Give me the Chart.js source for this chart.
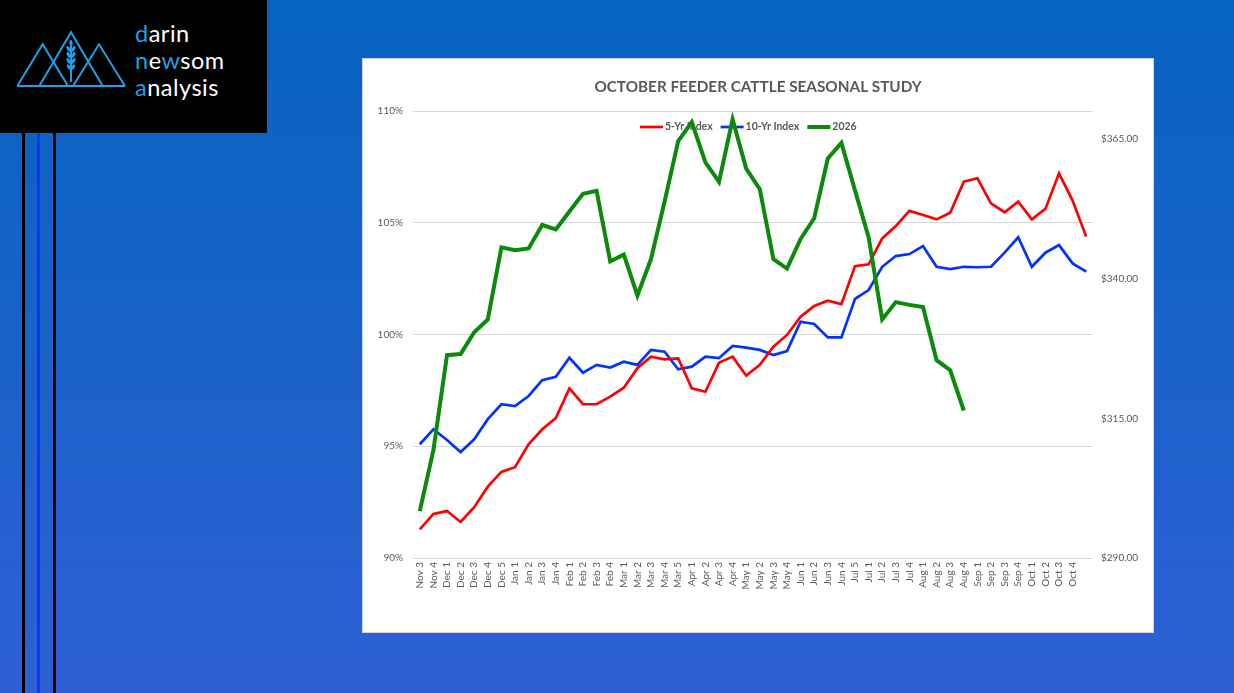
<!DOCTYPE html>
<html>
<head>
<meta charset="utf-8">
<script src="https://cdn.jsdelivr.net/npm/chart.js@4.4.1/dist/chart.umd.min.js"></script>
<style>
  html, body { margin:0; padding:0; }
  body { width:1234px; height:693px; overflow:hidden; position:relative;
         background: linear-gradient(180deg, #0563c1 0%, #1a62c9 50%, #2e60d4 100%); font-family: Lato, sans-serif; }
  #logo { position:absolute; left:0; top:0; width:267px; height:133px; background:#000; }
  #logo .txt { position:absolute; left:135px; top:20px; color:#fff; font-family: Lato, sans-serif; font-weight:400; font-size:23.5px; line-height:27px; letter-spacing:0.5px; }
  #logo .txt span { color:#1ea0e6; }
  .vline { position:absolute; top:133px; bottom:0; width:3px; }
  #box { position:absolute; left:363px; top:59px; width:790px; height:573px; background:#fff; outline:1px solid #d4d4d4; }
  #c { position:absolute; left:0; top:0; }
</style>
</head>
<body>
<div id="logo">
  <svg width="267" height="133" style="position:absolute;left:0;top:0">
    <g fill="none" stroke="#1ea0e6" stroke-width="2">
      <polyline points="17.3,86 42.7,44.3 68,86"/>
      <polyline points="39.3,86 71,32.3 102.7,86"/>
      <polyline points="73,86 99,44.3 125,86"/>
      <line x1="17.3" y1="86" x2="125" y2="86"/>
      <line x1="71" y1="42" x2="71" y2="82"/>
    </g>
    <g fill="#1ea0e6">
      <ellipse cx="71" cy="43" rx="1.6" ry="3"/>
      <ellipse cx="68.6" cy="49" rx="1.6" ry="3.2" transform="rotate(-30 68.6 49)"/>
      <ellipse cx="73.4" cy="49" rx="1.6" ry="3.2" transform="rotate(30 73.4 49)"/>
      <ellipse cx="68.6" cy="55" rx="1.6" ry="3.2" transform="rotate(-30 68.6 55)"/>
      <ellipse cx="73.4" cy="55" rx="1.6" ry="3.2" transform="rotate(30 73.4 55)"/>
      <ellipse cx="68.6" cy="61" rx="1.6" ry="3.2" transform="rotate(-30 68.6 61)"/>
      <ellipse cx="73.4" cy="61" rx="1.6" ry="3.2" transform="rotate(30 73.4 61)"/>
      <ellipse cx="68.8" cy="67" rx="1.5" ry="3" transform="rotate(-30 68.8 67)"/>
      <ellipse cx="73.2" cy="67" rx="1.5" ry="3" transform="rotate(30 73.2 67)"/>
    </g>
  </svg>
  <div class="txt"><span>d</span>arin<br><span>n</span>e<span>w</span>som<br><span>a</span>nalysis</div>
</div>
<div class="vline" style="left:22px;background:#000"></div>
<div class="vline" style="left:37px;background:#0a35ff"></div>
<div class="vline" style="left:53px;background:#000"></div>

<div id="box"><canvas id="c" width="790" height="573"></canvas></div>

<script>
const categories = ["Nov 3","Nov 4","Dec 1","Dec 2","Dec 3","Dec 4","Dec 5","Jan 1","Jan 2","Jan 3","Jan 4",
  "Feb 1","Feb 2","Feb 3","Feb 4","Mar 1","Mar 2","Mar 3","Mar 4","Mar 5","Apr 1","Apr 2","Apr 3","Apr 4",
  "May 1","May 2","May 3","May 4","Jun 1","Jun 2","Jun 3","Jun 4","Jul 5","Jul 1","Jul 2","Jul 3","Jul 4",
  "Aug 1","Aug 2","Aug 3","Aug 4","Sep 1","Sep 2","Sep 3","Sep 4","Oct 1","Oct 2","Oct 3","Oct 4",""];

const fiveYrIndex = [91.28, 91.97, 92.10, 91.61, 92.27, 93.19, 93.85, 94.06, 95.09, 95.76, 96.26, 97.59, 96.88, 96.88,
  97.22, 97.62, 98.49, 99.01, 98.89, 98.93, 97.59, 97.44, 98.74, 99.01, 98.16, 98.64, 99.45, 99.98, 100.80, 101.28,
  101.51, 101.36, 103.06, 103.14, 104.30, 104.85, 105.53, 105.35, 105.15, 105.45, 106.84, 106.99, 105.87, 105.47,
  105.94, 105.15, 105.62, 107.21, 105.99, 104.38];

const tenYrIndex = [95.09, 95.76, 95.28, 94.74, 95.31, 96.21, 96.88, 96.80, 97.25, 97.96, 98.11, 98.96, 98.29, 98.64,
  98.52, 98.78, 98.64, 99.31, 99.23, 98.44, 98.56, 99.01, 98.94, 99.49, 99.41, 99.31, 99.08, 99.26, 100.57, 100.47,
  99.87, 99.87, 101.59, 101.99, 103.03, 103.51, 103.60, 103.96, 103.03, 102.93, 103.03, 103.01, 103.03, 103.66,
  104.35, 103.03, 103.66, 104.00, 103.18, 102.81];

const price2026 = [298.4, 309.3, 326.3, 326.5, 330.4, 332.7, 345.6, 345.1, 345.4, 349.6, 348.8, 352.0, 355.2, 355.7,
  343.1, 344.3, 337.0, 343.5, 353.8, 364.6, 368.0, 360.8, 357.3, 368.5, 359.7, 356.0, 343.5, 341.8, 347.1, 350.8,
  361.5, 364.3, 355.8, 347.4, 332.7, 335.8, 335.3, 334.9, 325.4, 323.6, 316.4,
  null, null, null, null, null, null, null, null, null];

const leftTicks = [90, 95, 100, 105, 110];
const rightTicks = [290, 315, 340, 365];
const chartTitle = "OCTOBER FEEDER CATTLE SEASONAL STUDY";

const TXT = '#595959';
const FONT = 'Lato, "Open Sans", sans-serif';

const seriesStyle = [
  { label: '5-Yr Index', color: '#ff0000', width: 2.7 },
  { label: '10-Yr Index', color: '#0433ff', width: 2.7 },
  { label: '2026', color: '#0b8a0b', width: 4 }
];

const overlayPlugin = {
  id: 'overlay',
  beforeDatasetsDraw(chart) {
    const ctx = chart.ctx;
    ctx.save();
    ctx.font = 'bold 10.5px ' + FONT;
    ctx.fillStyle = TXT;
    ctx.textBaseline = 'middle';
    let x = 277;
    const y = 68;
    seriesStyle.forEach((s, i) => {
      ctx.strokeStyle = s.color;
      ctx.lineWidth = s.width;
      ctx.beginPath();
      ctx.moveTo(x, y); ctx.lineTo(x + 23, y); ctx.stroke();
      x += 25;
      ctx.fillText(s.label, x, y);
      x += ctx.measureText(s.label).width + 8;
    });
    ctx.restore();
  },
  afterDraw(chart) {
    const ctx = chart.ctx;
    ctx.save();
    ctx.font = 'bold 15.3px ' + FONT;
    ctx.fillStyle = TXT;
    ctx.textAlign = 'center';
    ctx.textBaseline = 'middle';
    ctx.fillText(chartTitle, chart.width / 2, 28);
    ctx.restore();
  }
};

new Chart(document.getElementById('c'), {
  type: 'line',
  data: {
    labels: categories,
    datasets: [
      { label: seriesStyle[0].label, data: fiveYrIndex, borderColor: seriesStyle[0].color, borderWidth: seriesStyle[0].width,
        pointRadius: 0, yAxisID: 'y', order: 1, tension: 0 },
      { label: seriesStyle[1].label, data: tenYrIndex, borderColor: seriesStyle[1].color, borderWidth: seriesStyle[1].width,
        pointRadius: 0, yAxisID: 'y', order: 2, tension: 0 },
      { label: seriesStyle[2].label, data: price2026, borderColor: seriesStyle[2].color, borderWidth: seriesStyle[2].width,
        pointRadius: 0, yAxisID: 'y1', order: 0, tension: 0, spanGaps: false }
    ]
  },
  options: {
    responsive: false,
    animation: false,
    devicePixelRatio: 1,
    layout: { padding: { top: 52, left: 0, right: 0, bottom: 0 } },
    plugins: { legend: { display: false }, title: { display: false }, tooltip: { enabled: false } },
    scales: {
      x: {
        type: 'category', offset: true,
        grid: { display: false, drawTicks: false },
        border: { display: false },
        ticks: { autoSkip: false, minRotation: 90, maxRotation: 90, padding: 4, color: TXT, font: { family: FONT, size: 10 } },
        afterFit(s) { s.height = 74; }
      },
      y: {
        position: 'left', min: 90, max: 110,
        afterBuildTicks(s) { s.ticks = leftTicks.map(v => ({ value: v })); },
        ticks: { callback: v => v + '%', padding: 10, color: TXT, font: { family: FONT, size: 10 } },
        grid: { color: '#d9d9d9', lineWidth: 1, drawTicks: false },
        border: { display: false },
        afterFit(s) { s.width = 50; }
      },
      y1: {
        position: 'right', min: 290, max: 370,
        afterBuildTicks(s) { s.ticks = rightTicks.map(v => ({ value: v })); },
        ticks: { callback: v => '$' + Number(v).toFixed(2), padding: 8, color: TXT, font: { family: FONT, size: 10 } },
        grid: { display: false, drawTicks: false },
        border: { display: false },
        afterFit(s) { s.width = 60; }
      }
    }
  },
  plugins: [overlayPlugin]
});
</script>
</body>
</html>
